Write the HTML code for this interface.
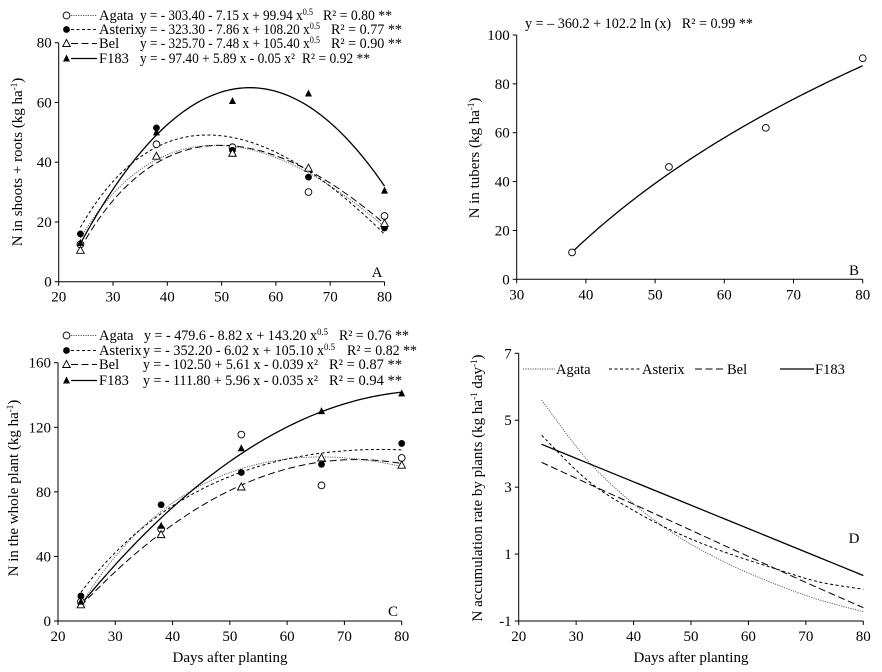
<!DOCTYPE html>
<html><head><meta charset="utf-8"><style>
html,body{margin:0;padding:0;background:#fff;}
svg{display:block;}
svg text{fill:#000;font-family:"Liberation Serif","Times New Roman",serif;}
</style></head><body>
<svg id="fig" width="882" height="672" viewBox="0 0 882 672" xmlns="http://www.w3.org/2000/svg" font-family="Liberation Serif, serif"></svg>
<script>
// ---- Data ----
const daysA = [24, 38, 52, 66, 80];
const agataA = [12.5, 46, 45, 30, 22];
const asterixA = [16, 51.5, 44, 35, 18];
const belA = [10.5, 42, 43, 38, 19.5];
const f183A = [13, 50, 60.5, 63, 30.5];

const daysB = [38, 52, 66, 80];
const tubersB = [11, 46, 62, 90.5];

const daysC = [24, 38, 52, 66, 80];
const agataC = [12, 57, 115.5, 84, 101];
const asterixC = [15.5, 72, 92, 97, 110];
const belC = [10, 53.5, 83, 101, 96.5];
const f183C = [12, 59, 107, 130, 141];

const daysD = [24, 32, 40, 48, 56, 64, 72, 80];
const agataD = [5.6, 3.8, 2.5, 1.5, 0.75, 0.15, -0.35, -0.72];
const asterixD = [4.55, 3.2, 2.3, 1.6, 1.05, 0.6, 0.18, -0.05];
const belD = [3.74, 3.11, 2.49, 1.87, 1.24, 0.62, 0.0, -0.6];
const f183D = [4.28, 3.72, 3.16, 2.6, 2.04, 1.48, 0.92, 0.36];

const ticksA_x = [20, 30, 40, 50, 60, 70, 80];
const ticksA_y = [0, 20, 40, 60, 80];
const ticksB_x = [30, 40, 50, 60, 70, 80];
const ticksB_y = [0, 20, 40, 60, 80, 100];
const ticksC_y = [0, 40, 80, 120, 160];
const ticksD_y = [-1, 1, 3, 5, 7];

const svg = document.getElementById('fig');
const NS = 'http://www.w3.org/2000/svg';
const FONT = '"Liberation Serif", serif';
function mk(tag, attrs, parent) {
  const e = document.createElementNS(NS, tag);
  for (const k in attrs) e.setAttribute(k, attrs[k]);
  if (tag === 'text') e.setAttribute('font-family', FONT);
  (parent || svg).appendChild(e);
  return e;
}
function scale(d0, d1, r0, r1) { return v => r0 + (v - d0) * (r1 - r0) / (d1 - d0); }

function fit(xs, ys, basis) {
  const n = basis.length;
  const A = []; for (let i = 0; i < n; i++) { A.push(new Array(n + 1).fill(0)); }
  xs.forEach((x, k) => {
    const b = basis.map(f => f(x));
    for (let i = 0; i < n; i++) { for (let j = 0; j < n; j++) A[i][j] += b[i] * b[j]; A[i][n] += b[i] * ys[k]; }
  });
  for (let i = 0; i < n; i++) {
    let p = i; for (let r = i + 1; r < n; r++) if (Math.abs(A[r][i]) > Math.abs(A[p][i])) p = r;
    [A[i], A[p]] = [A[p], A[i]];
    for (let r = 0; r < n; r++) if (r !== i) { const f = A[r][i] / A[i][i]; for (let c = i; c <= n; c++) A[r][c] -= f * A[i][c]; }
  }
  const coef = A.map((row, i) => row[n] / row[i]);
  return x => basis.reduce((s, f, i) => s + coef[i] * f(x), 0);
}
const sqrtBasis = [x => 1, x => x, x => Math.sqrt(x)];
const quadBasis = [x => 1, x => x, x => x * x];
const lnBasis = [x => 1, x => Math.log(x)];

const styles = {
  agata: {dash: '1.2,1.2', w: 0.9, col: '#555'},
  asterix: {dash: '3,2.5', w: 1, col: '#000'},
  bel: {dash: '7,3.5', w: 1, col: '#000'},
  f183: {dash: '', w: 1.3, col: '#000'}
};

function axes(name, xs, ys, xticks, yticks) {
  const g = mk('g', {});
  
  
  const [x0, x1] = [xs(xticks[0]), xs(xticks[xticks.length - 1])];
  const [y0, y1] = [ys(yticks[0]), ys(yticks[yticks.length - 1])];
  mk('line', {x1: x0, y1: y0, x2: x1, y2: y0, stroke: '#000', 'stroke-width': 1}, g);
  mk('line', {x1: x0, y1: y0, x2: x0, y2: y1, stroke: '#000', 'stroke-width': 1}, g);
  xticks.forEach(t => {
    const x = xs(t);
    mk('line', {x1: x, y1: y0, x2: x, y2: y0 + 4, stroke: '#000'}, g);
    const tx = mk('text', {x: x, y: y0 + 20, 'font-size': 15, 'text-anchor': 'middle'}, g);
    tx.textContent = t;
  });
  yticks.forEach(t => {
    const y = ys(t);
    mk('line', {x1: x0 - 4, y1: y, x2: x0, y2: y, stroke: '#000'}, g);
    const tx = mk('text', {x: x0 - 7, y: y + 5, 'font-size': 15, 'text-anchor': 'end'}, g);
    tx.textContent = t;
  });
}
function curve(name, f, xa, xb, xs, ys, st) {
  let d = '';
  for (let i = 0; i <= 80; i++) {
    const x = xa + (xb - xa) * i / 80;
    d += (i ? 'L' : 'M') + xs(x).toFixed(2) + ',' + ys(f(x)).toFixed(2);
  }
  const p = mk('path', {d: d, fill: 'none', stroke: st.col, 'stroke-width': st.w, 'stroke-dasharray': st.dash});
  
  
}
function polyline(name, xd, yd, xs, ys, st) {
  const pts = xd.map((x, i) => [xs(x), ys(yd[i])]);
  let d = 'M' + pts[0][0] + ',' + pts[0][1];
  for (let i = 0; i < pts.length - 1; i++) {
    const p0 = pts[Math.max(0, i - 1)], p1 = pts[i], p2 = pts[i + 1], p3 = pts[Math.min(pts.length - 1, i + 2)];
    const c1 = [p1[0] + (p2[0] - p0[0]) / 6, p1[1] + (p2[1] - p0[1]) / 6];
    const c2 = [p2[0] - (p3[0] - p1[0]) / 6, p2[1] - (p3[1] - p1[1]) / 6];
    d += 'C' + c1.join(',') + ' ' + c2.join(',') + ' ' + p2.join(',');
  }
  const p = mk('path', {d: d, fill: 'none', stroke: st.col, 'stroke-width': st.w, 'stroke-dasharray': st.dash});
  
  
}
function marker(kind, x, y, parent) {
  let e;
  if (kind === 'agata') e = mk('circle', {cx: x, cy: y, r: 3.4, fill: '#fff', stroke: '#000', 'stroke-width': 0.9}, parent);
  else if (kind === 'asterix') e = mk('circle', {cx: x, cy: y, r: 3.4, fill: '#000'}, parent);
  else if (kind === 'bel') e = mk('polygon', {points: `${x},${y - 4} ${x - 3.8},${y + 3} ${x + 3.8},${y + 3}`, fill: '#fff', stroke: '#000', 'stroke-width': 0.9}, parent);
  else e = mk('polygon', {points: `${x},${y - 4} ${x - 3.5},${y + 3} ${x + 3.5},${y + 3}`, fill: '#000'}, parent);
  return e;
}
function points(name, kind, xd, yd, xs, ys) {
  xd.forEach((x, i) => {
    const e = marker(kind, xs(x), ys(yd[i]));
    
    
  });
}
function text(name, x, y, str, size, anchor, rot, len) {
  const t = mk('text', {x: x, y: y, 'font-size': size, 'text-anchor': anchor || 'start'});
  if (rot) t.setAttribute('transform', `rotate(-90 ${x} ${y})`);
  if (len) { t.setAttribute('textLength', len); t.setAttribute('lengthAdjust', 'spacingAndGlyphs'); }
  t.innerHTML = str;
  
  
  return t;
}
function legendRow(name, kind, y, label, eq, eqx, eqEnd, r2, r2x, r2End) {
  const g = mk('g', {});
  
  
  marker(kind, 66.5, y - 4.5, g);
  const st = styles[kind];
  mk('line', {x1: 71, y1: y - 4.5, x2: 97, y2: y - 4.5, stroke: st.col, 'stroke-width': st.w, 'stroke-dasharray': st.dash}, g);
  const a = mk('text', {x: 99, y: y, 'font-size': 14.5}, g); a.textContent = label;
  const b = mk('text', {x: eqx, y: y, 'font-size': 14.5, textLength: eqEnd - eqx, lengthAdjust: 'spacingAndGlyphs'}, g); b.innerHTML = eq;
  const c = mk('text', {x: r2x, y: y, 'font-size': 14.5, textLength: r2End - r2x, lengthAdjust: 'spacingAndGlyphs'}, g); c.innerHTML = r2;
}
const sup5 = '<tspan font-size="9" dy="-5">0.5</tspan>';
const sup2 = '²';

// ---- Panel A ----
const xA = scale(20, 80, 58.7, 384.5), yA = scale(0, 80, 281.7, 42.7);
axes('panel-a', xA, yA, ticksA_x, ticksA_y);
const ser = [['agata', agataA, sqrtBasis], ['asterix', asterixA, sqrtBasis], ['bel', belA, sqrtBasis], ['f183', f183A, quadBasis]];
ser.forEach(([k, d, b]) => curve('panel-a-' + k + '-trend', fit(daysA, d, b), 24, 80, xA, yA, styles[k]));
ser.forEach(([k, d]) => points('panel-a-' + k, k, daysA, d, xA, yA));
legendRow('panel-a-legend-agata', 'agata', 20, 'Agata', 'y = - 303.40 - 7.15 x + 99.94 x' + sup5, 140, 313, 'R² = 0.80 **', 323, 392);
legendRow('panel-a-legend-asterix', 'asterix', 34, 'Asterix', 'y = - 323.30 - 7.86 x + 108.20 x' + sup5, 140, 320, 'R² = 0.77 **', 331, 402);
legendRow('panel-a-legend-bel', 'bel', 48, 'Bel', 'y = - 325.70 - 7.48 x + 105.40 x' + sup5, 140, 320, 'R² = 0.90 **', 331, 402);
legendRow('panel-a-legend-f183', 'f183', 63, 'F183', 'y = - 97.40 + 5.89 x - 0.05 x' + sup2, 140, 295, 'R² = 0.92 **', 302, 370);
text('panel-a-label', 377, 277, 'A', 15, 'middle');
text('panel-a-y-axis-title', 22, 162, 'N in shoots + roots (kg ha<tspan font-size="9" dy="-5">-1</tspan><tspan dy="5">)</tspan>', 15, 'middle', true);

// ---- Panel B ----
const xB = scale(30, 80, 516.7, 862.7), yB = scale(0, 100, 279.3, 35);
axes('panel-b', xB, yB, ticksB_x, ticksB_y);
curve('panel-b-trend', fit(daysB, tubersB, lnBasis), 38, 80, xB, yB, styles.f183);
points('panel-b-tubers', 'agata', daysB, tubersB, xB, yB);
text('panel-b-equation', 525, 28, 'y = – 360.2 + 102.2 ln (x)&#160;&#160;&#160;R² = 0.99 **', 14.5, 'start', false, 228);
text('panel-b-label', 854, 275, 'B', 15, 'middle');
text('panel-b-y-axis-title', 479, 158, 'N in tubers (kg ha<tspan font-size="9" dy="-5">-1</tspan><tspan dy="5">)</tspan>', 15, 'middle', true);

// ---- Panel C ----
const xC = scale(20, 80, 58, 401.7), yC = scale(0, 160, 621, 362.7);
axes('panel-c', xC, yC, ticksA_x, ticksC_y);
const serC = [['agata', agataC, sqrtBasis], ['asterix', asterixC, sqrtBasis], ['bel', belC, quadBasis], ['f183', f183C, quadBasis]];
serC.forEach(([k, d, b]) => curve('panel-c-' + k + '-trend', fit(daysC, d, b), 24, 80, xC, yC, styles[k]));
serC.forEach(([k, d]) => points('panel-c-' + k, k, daysC, d, xC, yC));
legendRow('panel-c-legend-agata', 'agata', 340, 'Agata', 'y = - 479.6 - 8.82 x + 143.20 x' + sup5, 144, 328, 'R² = 0.76 **', 339, 409);
legendRow('panel-c-legend-asterix', 'asterix', 355, 'Asterix', 'y = - 352.20 - 6.02 x + 105.10 x' + sup5, 143, 335, 'R² = 0.82 **', 347, 417);
legendRow('panel-c-legend-bel', 'bel', 369, 'Bel', 'y = - 102.50 + 5.61 x - 0.039 x' + sup2, 143, 318, 'R² = 0.87 **', 329, 402);
legendRow('panel-c-legend-f183', 'f183', 385, 'F183', 'y = - 111.80 + 5.96 x - 0.035 x' + sup2, 143, 318, 'R² = 0.94 **', 329, 402);
text('panel-c-label', 393, 616, 'C', 15, 'middle');
text('panel-c-y-axis-title', 18, 488, 'N in the whole plant (kg ha<tspan font-size="9" dy="-5">-1</tspan><tspan dy="5">)</tspan>', 15, 'middle', true);
text('panel-c-x-axis-title', 230, 662, 'Days after planting', 15, 'middle');

// ---- Panel D ----
const xD = scale(20, 80, 518.7, 863.3), yD = scale(-1, 7, 621, 353.3);
axes('panel-d', xD, yD, ticksA_x, ticksD_y);
polyline('panel-d-agata-line', daysD, agataD, xD, yD, styles.agata);
polyline('panel-d-asterix-line', daysD, asterixD, xD, yD, styles.asterix);
polyline('panel-d-bel-line', daysD, belD, xD, yD, styles.bel);
polyline('panel-d-f183-line', daysD, f183D, xD, yD, styles.f183);
[['agata', 523, 555, 'Agata'], ['asterix', 609, 641, 'Asterix'], ['bel', 695, 726, 'Bel'], ['f183', 780, 814, 'F183']].forEach(([k, a, b, lab]) => {
  const g = mk('g', {});
  
  
  const st = styles[k];
  mk('line', {x1: a, y1: 369, x2: b, y2: 369, stroke: st.col, 'stroke-width': st.w, 'stroke-dasharray': st.dash}, g);
  const t = mk('text', {x: b + 1, y: 374, 'font-size': 14.5}, g); t.textContent = lab;
});
text('panel-d-label', 854, 543, 'D', 15, 'middle');
text('panel-d-y-axis-title', 482, 488, 'N accumulation rate by plants (kg ha<tspan font-size="9" dy="-5">-1</tspan><tspan dy="5"> day</tspan><tspan font-size="9" dy="-5">-1</tspan><tspan dy="5">)</tspan>', 15, 'middle', true);
text('panel-d-x-axis-title', 691, 662, 'Days after planting', 15, 'middle');
</script>
</body></html>
